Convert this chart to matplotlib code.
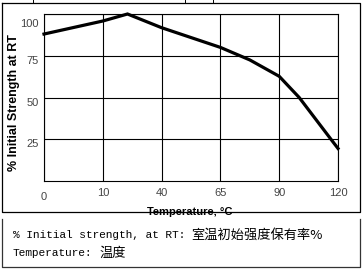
import matplotlib
matplotlib.use("Agg")
import matplotlib.pyplot as plt
from matplotlib.transforms import ScaledTranslation

# category labels on the x axis (evenly spaced, not to scale)
temp_labels = ["0", "10", "40", "65", "90", "120"]
strength_ticks = [25, 50, 75, 100]

# curve: position along the category axis, % strength
curve_pos = [0, 1, 1.42, 2, 3, 3.5, 4, 4.34, 4.88, 5]
curve_strength = [88, 95.8, 100, 91.8, 80, 72.5, 62.7, 50, 25, 19.5]

legend_latin = ["% Initial strength, at RT:", "Temperature:"]
legend_cjk = ["室温初始强度保有率%", "温度"]

W, H = 362, 270
fig = plt.figure(figsize=(W / 100, H / 100), dpi=100)

def px(x, y):
    return x / W, 1 - y / H

# main plot area
ax = fig.add_axes([44 / W, 1 - 181 / H, 294 / W, 167 / H])
ax.plot(curve_pos, curve_strength, color="black", lw=2.3, clip_on=False,
        solid_joinstyle="miter", zorder=3)
ax.set_xlim(0, 5)
ax.set_ylim(0, 100)
ax.set_xticks(range(len(temp_labels)))
ax.set_xticklabels(temp_labels, fontsize=8, color="#444444", family="Liberation Sans")
ax.set_yticks(strength_ticks)
ax.set_yticklabels([str(v) for v in strength_ticks], fontsize=8, color="#444444",
                   family="Liberation Sans")
ax.tick_params(length=0, pad=4)
ax.tick_params(axis="x", pad=5)
ax.grid(True, color="black", lw=0.8)
for s in ax.spines.values():
    s.set_linewidth(0.8)

# nudge tick labels down like in the original
for lab in ax.get_yticklabels():
    dy = -9 if lab.get_text() == "100" else -4
    lab.set_transform(lab.get_transform() + ScaledTranslation(0, dy / 100, fig.dpi_scale_trans))
for lab in ax.get_xticklabels():
    if lab.get_text() == "0":
        lab.set_transform(lab.get_transform() + ScaledTranslation(0, -4 / 100, fig.dpi_scale_trans))

ax.set_ylabel("% Initial Strength at RT", fontsize=9, fontweight="bold",
              family="Liberation Sans")
ax.yaxis.label.set_va("center")
ax.yaxis.set_label_coords(-0.102, 0.467)
ax.set_xlabel("Temperature, °C", fontsize=8, fontweight="bold", family="Liberation Sans")
ax.xaxis.label.set_va("center")
ax.xaxis.set_label_coords(0.497, -0.186)

# overlay for the picture frames and the translation note
ov = fig.add_axes([0, 0, 1, 1], facecolor="none", zorder=5)
ov.set_xlim(0, W)
ov.set_ylim(H, 0)
ov.axis("off")
# upper frame
ov.plot([2, 360, 360, 2, 2], [3, 3, 212, 212, 3], color="black", lw=0.9)
for x in [33, 185, 213]:
    ov.plot([x, x], [0, 3], color="black", lw=0.7)
# lower frame (no top edge)
ov.plot([2, 2, 360, 360], [219, 267, 267, 219], color="#333333", lw=0.9)

ov.text(13, 235, legend_latin[0], fontsize=8, family="Liberation Mono", va="center")
ov.text(191, 235, legend_cjk[0], fontsize=9.5, family=["Noto Sans CJK SC", "DejaVu Sans"],
        va="center")
ov.text(13, 253, legend_latin[1], fontsize=8, family="Liberation Mono", va="center")
ov.text(99, 253, legend_cjk[1], fontsize=9.5, family=["Noto Sans CJK SC", "DejaVu Sans"],
        va="center")

fig.savefig("out.png", dpi=100)
